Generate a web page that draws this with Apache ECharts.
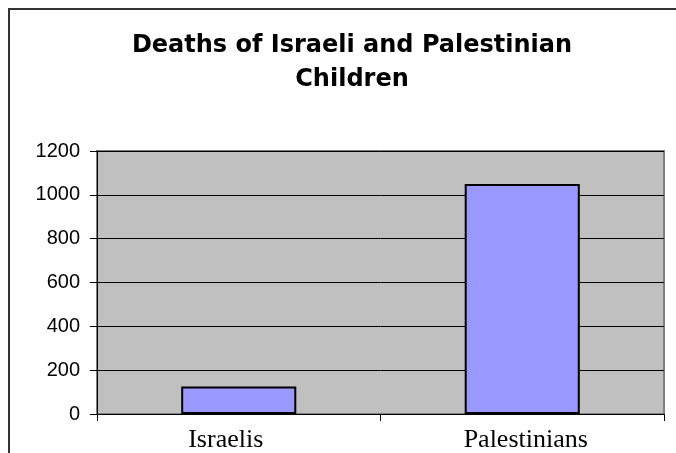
<!DOCTYPE html>
<html>
<head>
<meta charset="utf-8">
<script src="https://cdn.jsdelivr.net/npm/echarts@6/dist/echarts.min.js"></script>
<style>
  html, body { margin: 0; padding: 0; background: #fff; }
  #chart { width: 676px; height: 453px; }
</style>
</head>
<body>
<div id="chart"></div>
<script>
var categories = ['Israelis', 'Palestinians'];
var deaths = [125, 1050];
var yTicks = { min: 0, max: 1200, step: 200 };

// labels in the original sit a little off the category centres
var labelPads = [[0, 26, 0, 0], [0, 0, 0, 7]];

var chart = echarts.init(document.getElementById('chart'));

var option = {
    backgroundColor: '#FFFFFF',
    animation: false,
    title: {
        text: 'Deaths of Israeli and Palestinian\nChildren',
        left: 347,
        top: 24,
        textAlign: 'center',
        textStyle: {
            fontFamily: 'DejaVu Sans',
            fontWeight: 'bold',
            fontSize: 24,
            lineHeight: 34,
            color: '#000'
        }
    },
    graphic: [{
        type: 'rect',
        silent: true,
        z: -1,
        shape: { x: 9, y: 9, width: 700, height: 500 },
        style: { fill: 'none', stroke: '#333', lineWidth: 2 }
    }],
    grid: {
        left: 97,
        right: 12,
        top: 151,
        bottom: 37,
        show: true,
        backgroundColor: '#C0C0C0',
        borderColor: '#808080',
        borderWidth: 2
    },
    xAxis: {
        type: 'category',
        data: categories.map(function (c, i) {
            return { value: c, textStyle: { padding: labelPads[i] } };
        }),
        axisLine: { lineStyle: { color: '#000', width: 1 } },
        axisTick: { show: true, length: 7, lineStyle: { color: '#000' } },
        axisLabel: {
            margin: 13,
            fontFamily: 'Liberation Serif',
            fontSize: 26,
            color: '#000'
        },
        splitLine: { show: false }
    },
    yAxis: {
        type: 'value',
        min: yTicks.min,
        max: yTicks.max,
        interval: yTicks.step,
        axisLine: { show: true, lineStyle: { color: '#000', width: 1 } },
        axisTick: { show: true, length: 7, lineStyle: { color: '#000' } },
        axisLabel: {
            margin: 17,
            fontFamily: 'Liberation Sans',
            fontSize: 20,
            color: '#000',
            formatter: function (v) { return String(v); }
        },
        splitLine: { show: true, lineStyle: { color: '#000', width: 1 } }
    },
    series: [{
        type: 'bar',
        data: deaths,
        barWidth: '40.6%',
        itemStyle: {
            color: '#9999FF',
            borderColor: '#000',
            borderWidth: 2
        }
    }]
};

chart.setOption(option);
</script>
</body>
</html>
